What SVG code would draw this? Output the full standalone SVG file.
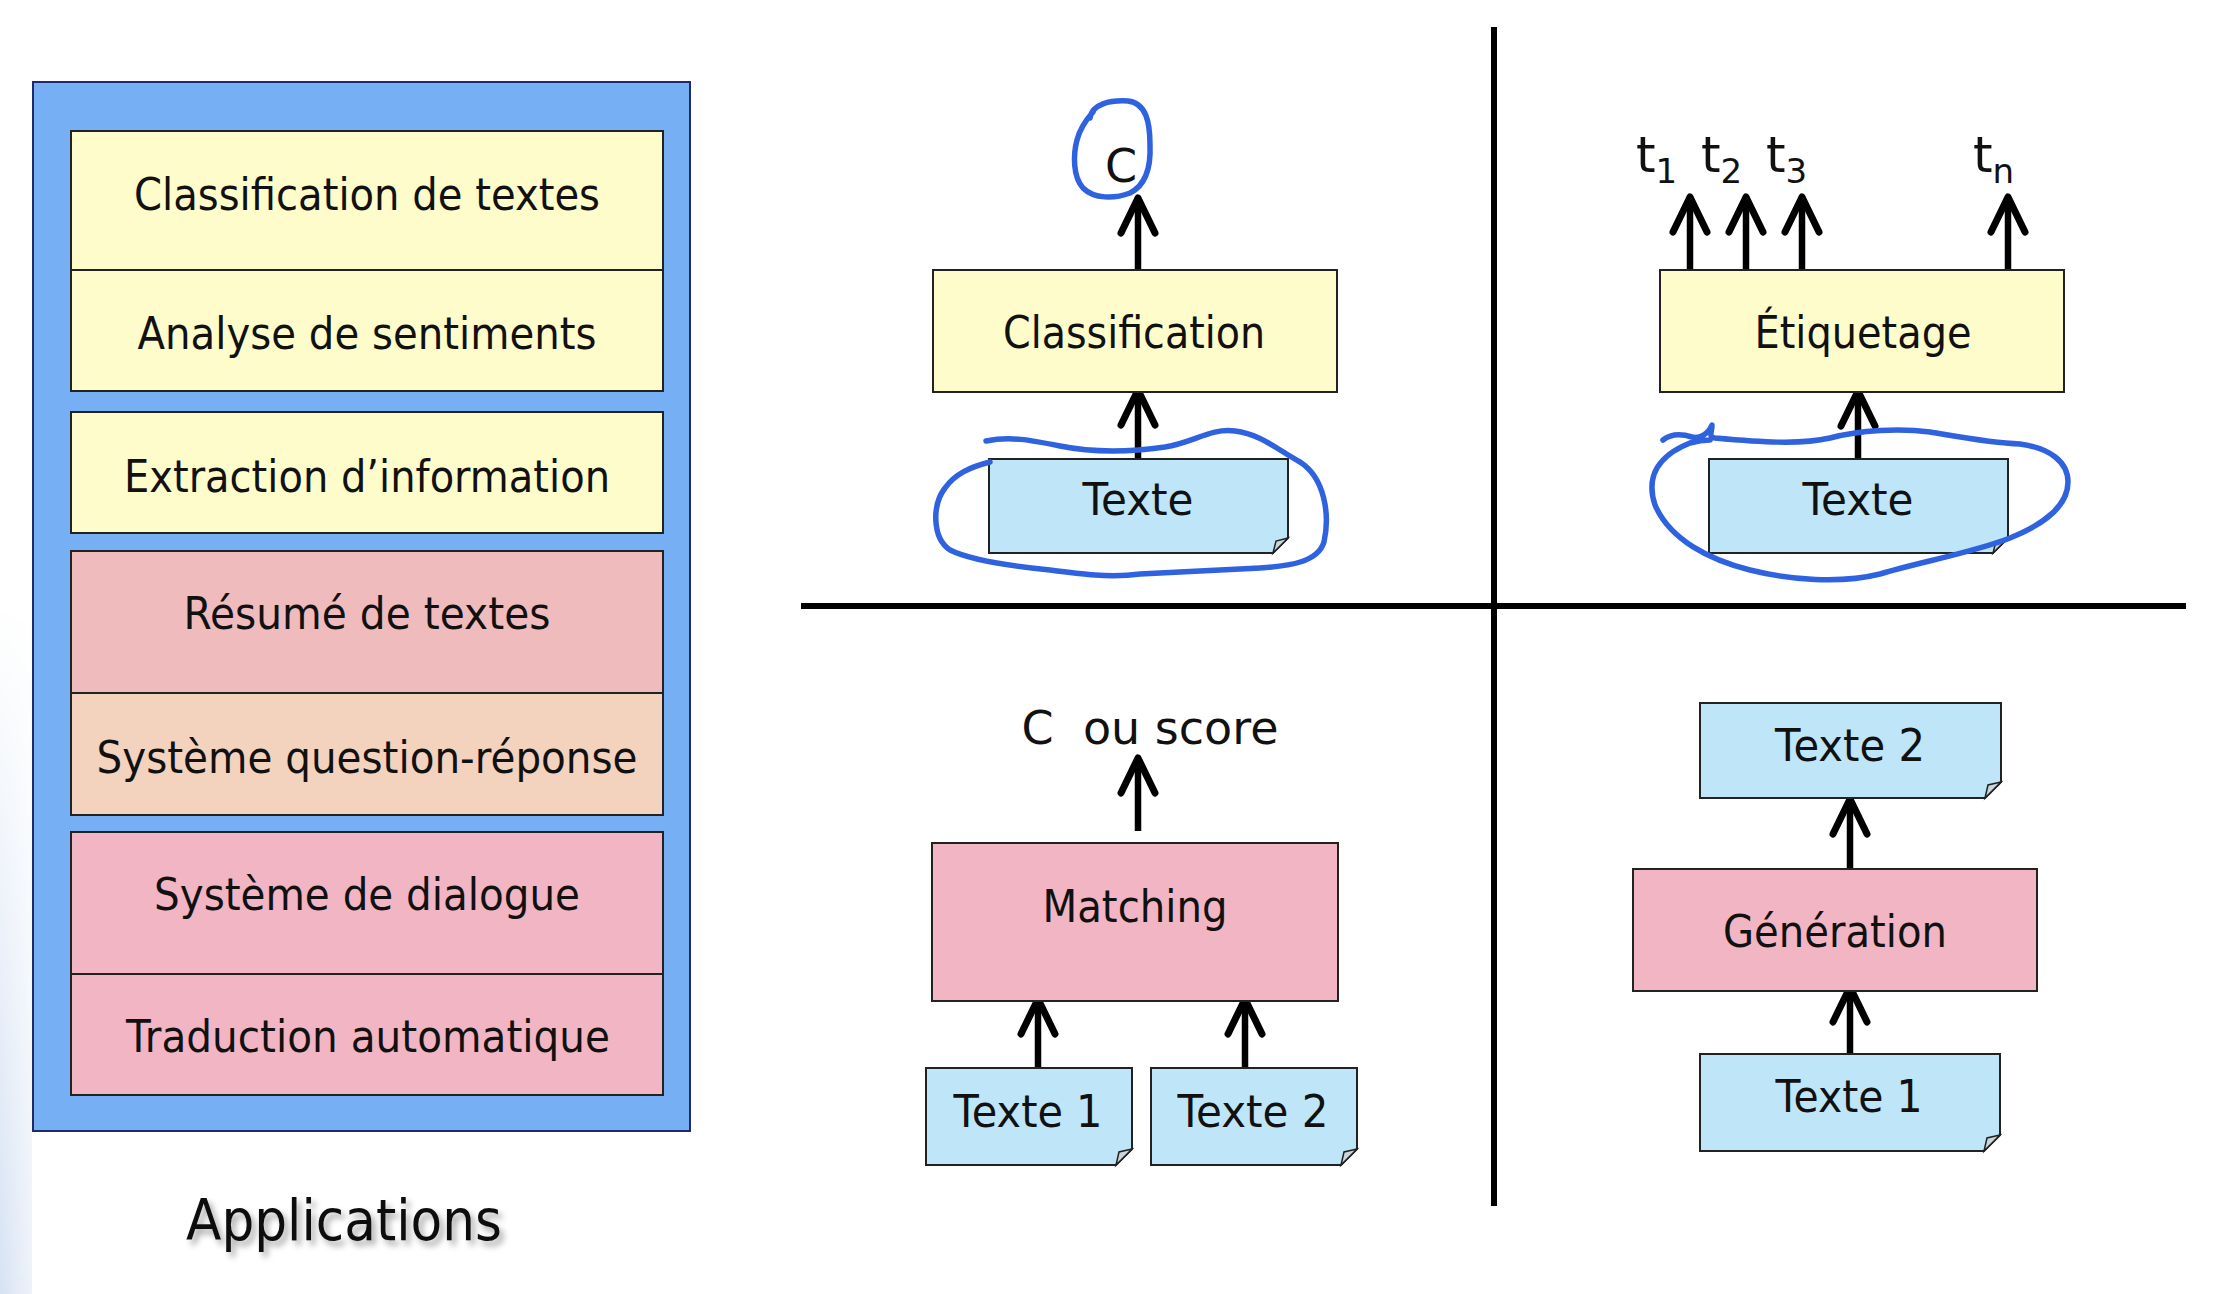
<svg xmlns="http://www.w3.org/2000/svg" width="2216" height="1294" viewBox="0 0 2216 1294">
<style>
text{font-family:"DejaVu Sans","Verdana",sans-serif;fill:#111;}
.lbl{font-size:44px;text-anchor:middle;}
.yel{fill:#FEFCCA;stroke:#222;stroke-width:2;}
.sal{fill:#EFBBBD;stroke:#222;stroke-width:2;}
.pch{fill:#F3D2BE;stroke:#222;stroke-width:2;}
.pnk{fill:#F2B5C3;stroke:#222;stroke-width:2;}
.blu{fill:#BFE5F9;stroke:#222;stroke-width:2;}
.fold{fill:#C9D6DE;stroke:#222;stroke-width:1.5;}
.arr{fill:none;stroke:#000;stroke-width:6.5;marker-end:url(#ah);}
.axis{stroke:#000;stroke-width:6;}
.ink{fill:none;stroke:#2F62DF;stroke-width:5.5;stroke-linecap:round;stroke-linejoin:round;}
</style>
<defs>
<marker id="ah" markerUnits="userSpaceOnUse" markerWidth="60" markerHeight="60" viewBox="-45 -30 60 60" refX="0" refY="0" orient="auto">
<path d="M-35,-17 L0,0 L-35,17" fill="none" stroke="#000" stroke-width="7" stroke-linecap="round" stroke-linejoin="round"/>
</marker>
<linearGradient id="edge" x1="0" y1="0" x2="1" y2="0">
<stop offset="0" stop-color="#D6E2F3"/>
<stop offset="1" stop-color="#EEF3FA"/>
</linearGradient>
<linearGradient id="fadeV" x1="0" y1="0" x2="0" y2="1">
<stop offset="0" stop-color="#fff" stop-opacity="0"/>
<stop offset="1" stop-color="#fff" stop-opacity="1"/>
</linearGradient>
<mask id="edgeMask" maskUnits="userSpaceOnUse" x="0" y="600" width="40" height="694">
<rect x="0" y="600" width="40" height="694" fill="url(#fadeV)"/>
</mask>
<filter id="shadow" x="-10%" y="-30%" width="130%" height="170%">
<feDropShadow dx="4" dy="5" stdDeviation="3" flood-color="#000" flood-opacity="0.35"/>
</filter>
</defs>
<rect width="2216" height="1294" fill="#FFFFFF"/>
<rect x="0" y="600" width="32" height="694" fill="url(#edge)" mask="url(#edgeMask)"/>

<g id="applications">
<rect x="33" y="82" width="657" height="1049" fill="#77AFF4" stroke="#1E2A6A" stroke-width="2"/>
<g id="app-classification"><rect class="yel" x="71" y="131" width="592" height="139"/><text class="lbl" x="367" y="210" textLength="466" lengthAdjust="spacingAndGlyphs">Classification de textes</text></g>
<g id="app-sentiments"><rect class="yel" x="71" y="270" width="592" height="121"/><text class="lbl" x="367" y="349" textLength="459" lengthAdjust="spacingAndGlyphs">Analyse de sentiments</text></g>
<g id="app-extraction"><rect class="yel" x="71" y="412" width="592" height="121"/><text class="lbl" x="367" y="492" textLength="486" lengthAdjust="spacingAndGlyphs">Extraction d’information</text></g>
<g id="app-resume"><rect class="sal" x="71" y="551" width="592" height="142"/><text class="lbl" x="367" y="629" textLength="367" lengthAdjust="spacingAndGlyphs">Résumé de textes</text></g>
<g id="app-qr"><rect class="pch" x="71" y="693" width="592" height="122"/><text class="lbl" x="367" y="773" textLength="541" lengthAdjust="spacingAndGlyphs">Système question-réponse</text></g>
<g id="app-dialogue"><rect class="pnk" x="71" y="832" width="592" height="142"/><text class="lbl" x="367" y="910" textLength="426" lengthAdjust="spacingAndGlyphs">Système de dialogue</text></g>
<g id="app-traduction"><rect class="pnk" x="71" y="974" width="592" height="121"/><text class="lbl" x="368" y="1052" textLength="484" lengthAdjust="spacingAndGlyphs">Traduction automatique</text></g>
<text id="applications-title" x="344" y="1240" font-size="57" text-anchor="middle" textLength="316" lengthAdjust="spacingAndGlyphs" filter="url(#shadow)">Applications</text>
</g>

<g id="axes">
<line class="axis" x1="1494" y1="27" x2="1494" y2="1206"/>
<line class="axis" x1="801" y1="606" x2="2186" y2="606"/>
</g>

<g id="connectors">
<path class="arr" d="M1138,270 V198"/>
<path class="arr" d="M1138,459 V390"/>
<path class="arr" d="M1690,270 V197"/>
<path class="arr" d="M1746,270 V197"/>
<path class="arr" d="M1802,270 V197"/>
<path class="arr" d="M2008,270 V197"/>
<path class="arr" d="M1858,459 V391"/>
<path class="arr" d="M1138,831 V758"/>
<path class="arr" d="M1038,1068 V999"/>
<path class="arr" d="M1245,1068 V999"/>
<path class="arr" d="M1850,869 V799"/>
<path class="arr" d="M1850,1054 V987"/>
</g>

<g id="label-c"><text x="1121" y="182" font-size="46" text-anchor="middle">C</text></g>
<g id="classification"><rect class="yel" x="933" y="270" width="404" height="122"/><text class="lbl" x="1134" y="348" textLength="262" lengthAdjust="spacingAndGlyphs">Classification</text></g>
<g id="texte-classif"><path class="blu" d="M989,459 H1288 V538 L1273,553 H989 Z"/><path class="fold" d="M1288,538 L1276,541 L1273,553 Z"/><text class="lbl" x="1138" y="515" textLength="111" lengthAdjust="spacingAndGlyphs">Texte</text></g>

<g id="labels-t">
<text x="1636" y="172" font-size="50">t<tspan font-size="34" dy="11">1</tspan></text>
<text x="1701" y="172" font-size="50">t<tspan font-size="34" dy="11">2</tspan></text>
<text x="1766" y="172" font-size="50">t<tspan font-size="34" dy="11">3</tspan></text>
<text x="1973" y="172" font-size="50">t<tspan font-size="34" dy="11">n</tspan></text>
</g>
<g id="etiquetage"><rect class="yel" x="1660" y="270" width="404" height="122"/><text class="lbl" x="1863" y="348" textLength="217" lengthAdjust="spacingAndGlyphs">Étiquetage</text></g>
<g id="texte-etiq"><path class="blu" d="M1709,459 H2008 V538 L1993,553 H1709 Z"/><path class="fold" d="M2008,538 L1996,541 L1993,553 Z"/><text class="lbl" x="1858" y="515" textLength="111" lengthAdjust="spacingAndGlyphs">Texte</text></g>

<g id="label-score"><text x="1150" y="744" font-size="46" text-anchor="middle" xml:space="preserve">C  ou score</text></g>
<g id="matching"><rect class="pnk" x="932" y="843" width="406" height="158"/><text class="lbl" x="1135" y="922" textLength="185" lengthAdjust="spacingAndGlyphs">Matching</text></g>
<g id="texte1-match"><path class="blu" d="M926,1068 H1132 V1149 L1116,1165 H926 Z"/><path class="fold" d="M1132,1149 L1119,1152 L1116,1165 Z"/><text class="lbl" x="1028" y="1127" textLength="149" lengthAdjust="spacingAndGlyphs">Texte 1</text></g>
<g id="texte2-match"><path class="blu" d="M1151,1068 H1357 V1149 L1341,1165 H1151 Z"/><path class="fold" d="M1357,1149 L1344,1152 L1341,1165 Z"/><text class="lbl" x="1253" y="1127" textLength="151" lengthAdjust="spacingAndGlyphs">Texte 2</text></g>

<g id="texte2-gen"><path class="blu" d="M1700,703 H2001 V782 L1985,798 H1700 Z"/><path class="fold" d="M2001,782 L1988,785 L1985,798 Z"/><text class="lbl" x="1850" y="761" textLength="150" lengthAdjust="spacingAndGlyphs">Texte 2</text></g>
<g id="generation"><rect class="pnk" x="1633" y="869" width="404" height="122"/><text class="lbl" x="1835" y="947" textLength="224" lengthAdjust="spacingAndGlyphs">Génération</text></g>
<g id="texte1-gen"><path class="blu" d="M1700,1054 H2000 V1135 L1984,1151 H1700 Z"/><path class="fold" d="M2000,1135 L1987,1138 L1984,1151 Z"/><text class="lbl" x="1849" y="1112" textLength="147" lengthAdjust="spacingAndGlyphs">Texte 1</text></g>

<g id="annotations">
<path class="ink" d="M1090,118 C1092,104 1110,100 1128,101 C1146,103 1150,122 1150,145 C1151,168 1146,185 1130,193 C1114,199 1094,199 1083,188 C1073,177 1073,155 1077,140 C1080,128 1086,120 1093,112"/>
<path class="ink" d="M986,441 C1010,436 1030,440 1060,446 C1095,453 1130,452 1165,447 C1195,442 1210,428 1235,431 C1260,434 1275,448 1300,462 C1325,478 1330,515 1324,542 C1318,562 1290,566 1260,568 C1220,570 1180,572 1140,574 C1110,578 1080,574 1050,570 C1010,566 970,560 950,550 C932,538 932,505 945,488 C955,474 970,467 990,462"/>
<path class="ink" d="M1663,440 C1672,433 1682,434 1692,437 C1700,439 1708,434 1712,425 C1712,432 1708,437 1715,438 C1760,442 1800,445 1830,438 C1860,430 1900,428 1930,432 C1960,437 1990,443 2020,444 C2050,448 2068,462 2068,482 C2068,505 2045,524 2010,538 C1975,552 1920,562 1880,574 C1840,584 1790,580 1750,570 C1710,560 1670,540 1655,505 C1645,475 1660,455 1690,443 C1697,441 1703,440 1710,440"/>
</g>
</svg>
